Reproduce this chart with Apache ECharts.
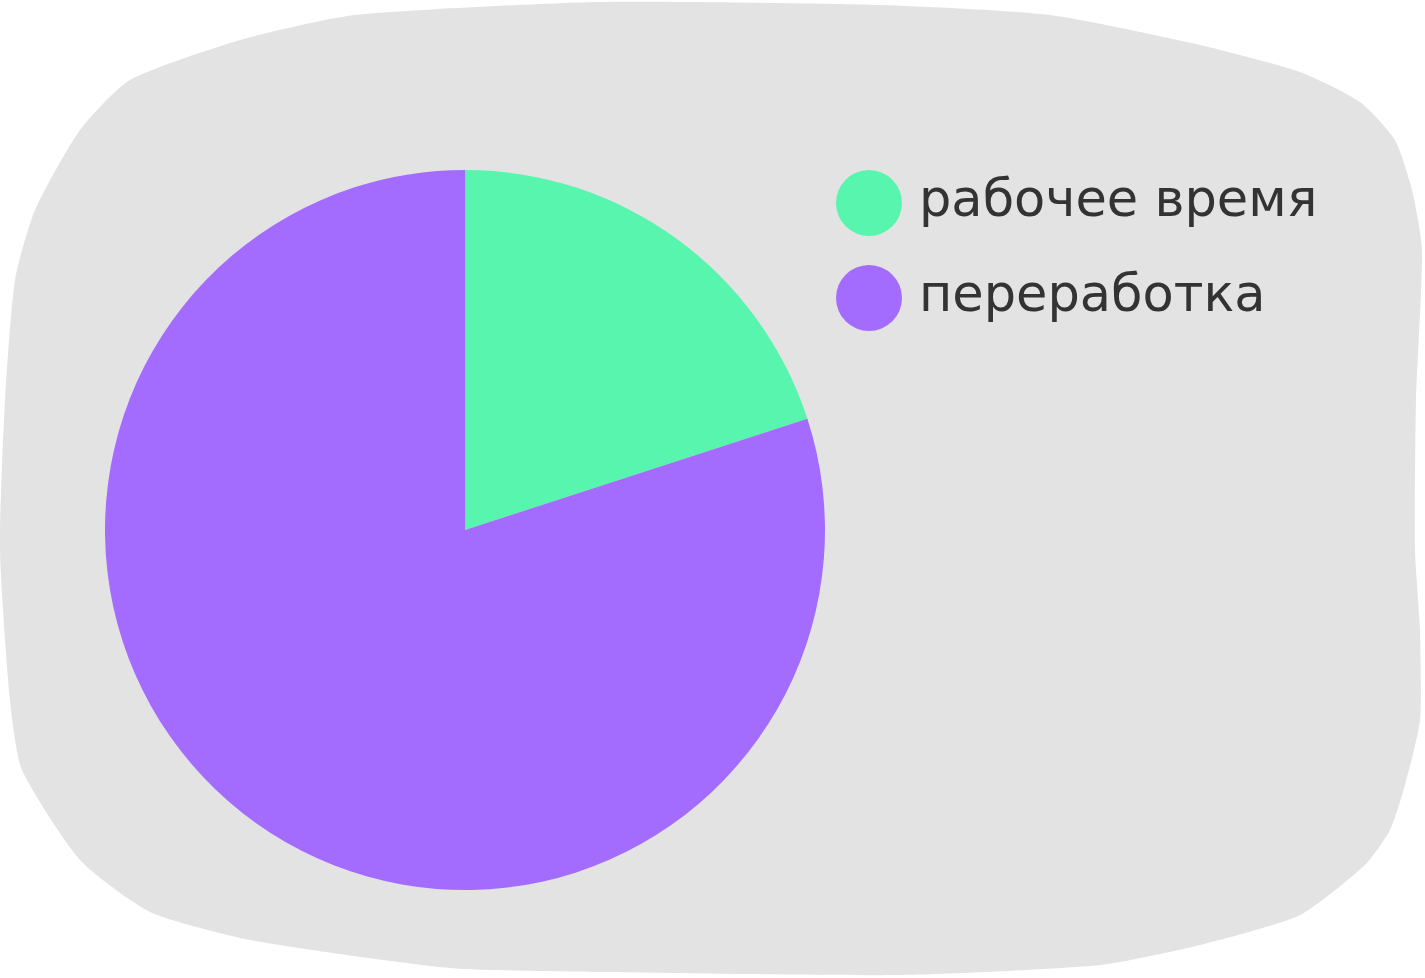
<!DOCTYPE html>
<html><head><meta charset="utf-8">
<script src="https://cdn.jsdelivr.net/npm/echarts@6/dist/echarts.min.js"></script>
<style>html,body{margin:0;padding:0;background:#fff}#c{width:1425px;height:978px}</style>
</head><body><div id="c"></div>
<script>
const categories = ['рабочее время', 'переработка'];
const values = [20, 80];
const colors = ['#58F5AE', '#A46BFF'];

const chart = echarts.init(document.getElementById('c'));
const blob = [[355,15],[600,2],[880,5],[1050,15],[1200,45],[1300,72],[1360,102],[1395,140],[1412,190],[1422,250],[1416,400],[1415,550],[1420,630],[1420,720],[1405,785],[1390,830],[1365,865],[1300,915],[1200,945],[1100,965],[900,975],[600,972],[450,968],[250,940],[150,912],[80,860],[22,770],[10,700],[0,550],[5,400],[15,280],[35,210],[80,130],[130,80],[240,40]];
chart.setOption({
  backgroundColor: '#ffffff',
  graphic: [{
    type: 'polygon', z: -100, silent: true,
    shape: { points: blob, smooth: 0.2 },
    style: { fill: '#e3e3e3' }
  }],
  legend: {
    orient: 'vertical', left: 831, top: 165,
    icon: 'circle', itemWidth: 66, itemHeight: 66, itemGap: 29,
    data: categories,
    textStyle: { fontFamily: 'DejaVu Sans', fontSize: 51, color: '#333333', padding: [0,0,0,12] }
  },
  series: [{
    type: 'pie', center: [465, 530], radius: 360, startAngle: 90, clockwise: true,
    label: { show: false }, labelLine: { show: false },
    emphasis: { disabled: true },
    data: categories.map((n, i) => ({ name: n, value: values[i], itemStyle: { color: colors[i] } }))
  }]
});
</script></body></html>
